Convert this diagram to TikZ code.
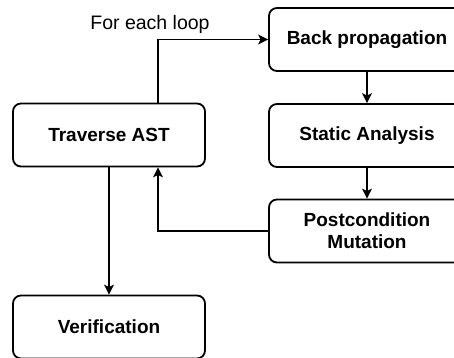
\documentclass[tikz,border=0pt]{standalone}
\usepackage{fontspec}
\setmainfont{Liberation Sans}
\usetikzlibrary{arrows.meta}

\tikzset{
  stepbox/.style={draw, line width=1.8pt, rounded corners=8pt, minimum width=192pt,
    minimum height=63pt, align=center, font=\fontsize{19}{22}\selectfont\bfseries},
  flow/.style={-{Stealth[length=10pt, width=10pt, inset=2.5pt]}, line width=1.3pt}
}

\begin{document}
\begin{tikzpicture}[x=1pt, y=-1pt]

    % Rahmen
    \fill[white] (0,0) rectangle (454,357);
    \useasboundingbox (0,0) rectangle (454,357);
    \clip (0,0) rectangle (454,357);

    % Kaesten
    \node[stepbox] (trav) at (109,135) {Traverse AST};
    \node[stepbox] (verif) at (109,327) {Verification};
    \node[stepbox, minimum width=196pt] (back) at (367,39.5) {Back propagation};
    \node[stepbox, minimum width=196pt] (stat) at (367,135.5) {Static Analysis};
    \node[stepbox, minimum width=196pt] (post) at (367,231) {Postcondition\\Mutation};

    % Schleife
    \coordinate (tout) at ([xshift=49pt]trav.north);
    \coordinate (tin) at ([xshift=49pt]trav.south);
    \draw[flow] (tout) |- (back.west);
    \node[font=\fontsize{19.5}{22}\selectfont] (loop) at (150,24) {For each loop};
    \draw[flow] (back) -- (stat);
    \draw[flow] (stat) -- (post);
    \draw[flow] (post.west) -| (tin);

    % Abschluss
    \draw[flow] (trav) -- (verif);

\end{tikzpicture}
\end{document}
